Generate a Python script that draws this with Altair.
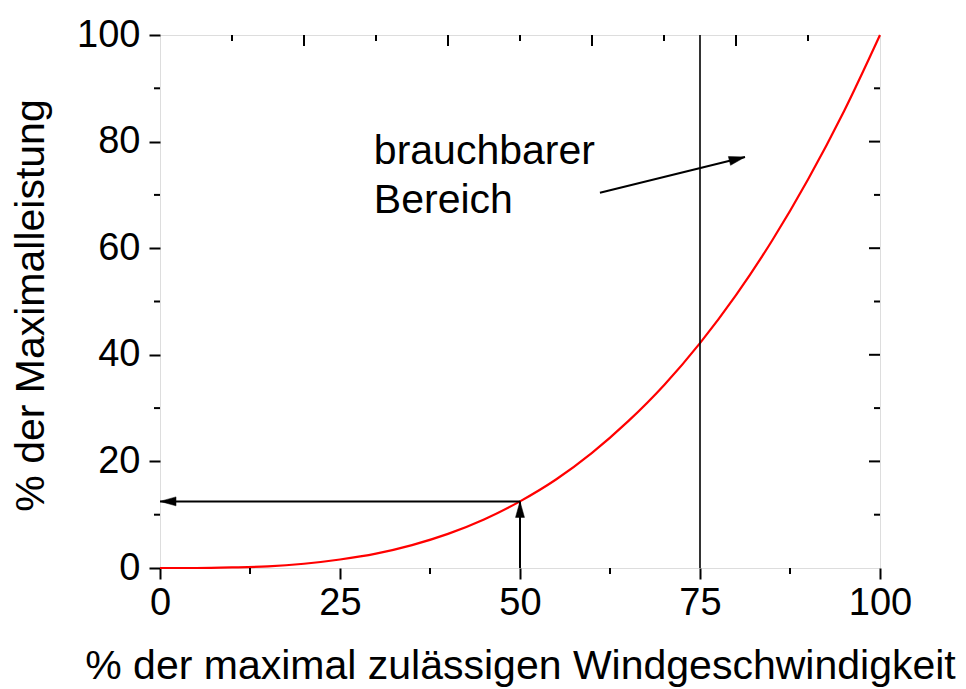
import altair as alt
import pandas as pd

# Curve: % of max wind speed -> % of max power
speed = [0, 5, 10, 15, 20, 25, 30, 35, 40, 45, 50, 55, 60, 65, 70, 75, 80, 85, 90, 95, 100]
power = [0, 0.0, 0.1, 0.3, 0.8, 1.6, 2.7, 4.3, 6.4, 9.1, 12.5, 16.6, 21.6, 27.5, 34.3, 42.2, 51.2, 61.4, 72.9, 85.7, 100]

x_major = [0, 25, 50, 75, 100]
x_minor = [12.5, 37.5, 62.5, 87.5]
y_major = [0, 20, 40, 60, 80, 100]
y_minor = [10, 30, 50, 70, 90]
top_major = [20, 40, 60, 80]
top_minor = [10, 30, 50, 70, 90]
right_major = [20, 40, 60, 80]
right_minor = [10, 30, 50, 70, 90]

# reference lines / arrows (data coordinates)
vline_x = [75]
arrow_x1 = [50, 50, 61.1]
arrow_y1 = [12.5, 0, 70.4]
arrow_x2 = [0, 50, 81.25]
arrow_y2 = [12.5, 12.5, 77.1]
arrow_angle = [270, 0, 76]

label_text = ["brauchbarer\nBereich"]
label_x = [29.7]
label_y = [75.8]

W, H = 720, 533
FONT = "Liberation Sans"

xscale = alt.Scale(domain=[0, 100], nice=False, zero=False)
yscale = alt.Scale(domain=[0, 100], nice=False, zero=False)

xaxis = alt.Axis(values=x_major, format="d", grid=False, domain=False,
                 tickSize=11, tickWidth=2, tickColor="black",
                 labelFontSize=38, labelPadding=5, labelColor="black",
                 labelFlush=False, labelOverlap=False, labelFont=FONT,
                 title="% der maximal zulässigen Windgeschwindigkeit",
                 titleFontSize=41, titleFontWeight="normal", titleColor="black",
                 titleFont=FONT, titleY=110, titleBaseline="alphabetic")
yaxis = alt.Axis(values=y_major, format="d", grid=False, domain=False,
                 tickSize=11, tickWidth=2, tickColor="black",
                 labelFontSize=38, labelPadding=9, labelColor="black",
                 labelFlush=False, labelOverlap=False, labelFont=FONT,
                 title="% der Maximalleistung",
                 titleFontSize=41, titleFontWeight="normal", titleColor="black",
                 titleFont=FONT, titleX=-117, titleY=270, titleBaseline="alphabetic",
                 titleAlign="center", titleAngle=270)


def X(field):
    return alt.X(field, type="quantitative", scale=xscale, axis=xaxis)


def Y(field):
    return alt.Y(field, type="quantitative", scale=yscale, axis=yaxis)


curve_df = pd.DataFrame({"x": speed, "y": power})
curve = alt.Chart(curve_df).mark_line(color="#ff0000", strokeWidth=2.2, interpolate="monotone").encode(
    x=X("x"), y=Y("y"))

vline = alt.Chart(pd.DataFrame({"x": vline_x})).mark_rule(color="black", strokeWidth=1.6).encode(
    x=X("x"), y=alt.value(0), y2=alt.value(H))

arr_df = pd.DataFrame({"x": arrow_x1, "y": arrow_y1, "x2": arrow_x2, "y2": arrow_y2, "ang": arrow_angle})
arrow_lines = alt.Chart(arr_df).mark_rule(color="black", strokeWidth=2).encode(
    x=X("x"), y=Y("y"), x2="x2", y2="y2")
arrow_heads = alt.Chart(arr_df).mark_point(
    shape="M0,0 L0.28,1 L-0.28,1 Z", filled=True, fill="black", stroke="black",
    strokeWidth=0.5, size=1024, opacity=1).encode(
    x=X("x2"), y=Y("y2"), angle=alt.Angle("ang:Q", scale=None))

label = alt.Chart(pd.DataFrame({"t": label_text, "x": label_x, "y": label_y})).mark_text(
    align="left", baseline="alphabetic", fontSize=41, font=FONT, color="black",
    lineBreak="\n", lineHeight=49).encode(x=X("x"), y=Y("y"), text="t:N")

def vticks(vals, y0, y1):
    return alt.Chart(pd.DataFrame({"v": vals})).mark_rule(color="black", strokeWidth=2).encode(
        x=X("v"), y=alt.value(y0), y2=alt.value(y1))

def hticks(vals, x0, x1):
    return alt.Chart(pd.DataFrame({"v": vals})).mark_rule(color="black", strokeWidth=2).encode(
        y=Y("v"), x=alt.value(x0), x2=alt.value(x1))

ticks = [
    vticks(x_minor, H, H + 6),
    hticks(y_minor, -6, 0),
    vticks(top_major, 0, 11),
    vticks(top_minor, 0, 6),
    hticks(right_major, W - 11, W),
    hticks(right_minor, W - 6, W),
]

chart = alt.layer(curve, vline, arrow_lines, arrow_heads, label, *ticks).properties(
    width=W, height=H,
    autosize=alt.AutoSizeParams(type="none"),
    padding={"left": 152, "top": 27, "right": 78, "bottom": 121},
    background="white",
).configure_view(stroke="black", strokeWidth=2).configure(font=FONT)

chart.save("out.html", embed_options={"renderer": "svg", "actions": False})
